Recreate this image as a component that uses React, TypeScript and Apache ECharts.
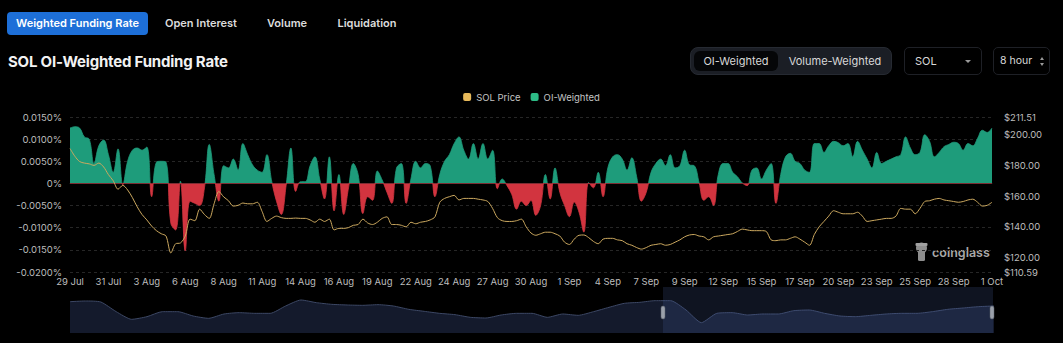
import React, { useEffect, useRef } from "react";
import * as echarts from "echarts";

// OI-weighted funding rate (%), 8-hour intervals from 29 Jul
const funding: number[] = [
  0.0125, 0.0128, 0.0125, 0.0105, 0.0100, 0.0045, 0.0085, 0.0098, 0.0065, 0.0025,
  0.0078, -0.0003, 0.005, 0.0075, 0.008, 0.0075, 0.0082, -0.003, 0.0048, 0.005,
  0.0048, -0.009, -0.0105, 0.0005, -0.0152, -0.004, -0.0045, -0.005, -0.001, 0.0088,
  0.002, -0.004, 0.004, 0.0035, 0.0055, 0.003, 0.009, 0.0065, 0.0042, 0.003,
  0.0025, 0.0065, 0.0005, -0.004, -0.007, -0.0005, 0.008, -0.0018, 0.0004, 0.0004,
  0.004, 0.006, 0.001, -0.0035, 0.006, -0.0062, 0.002, -0.007, -0.001, 0.0045,
  0.002, -0.0068, -0.003, -0.0038, 0.0028, 0.0008, -0.002, -0.0045, 0.0035, 0.0045,
  -0.0045, 0.001, 0.005, 0.0035, 0.0045, 0.004, -0.003, 0.002, 0.005, 0.0065,
  0.009, 0.0105, 0.0075, 0.0055, 0.009, 0.0055, 0.009, 0.0055, 0.0075, -0.0012,
  0.001, -0.0005, -0.0025, -0.0058, -0.004, -0.005, -0.0038, -0.0072, -0.005, 0.002,
  -0.0035, 0.0035, -0.002, -0.005, -0.0075, -0.0042, -0.0065, -0.011, 0.0002, -0.001,
  0.0025, -0.003, 0.0035, 0.006, 0.0065, 0.0055, 0.003, 0.0058, 0.0015, -0.004,
  -0.002, 0.0025, 0.0045, 0.0055, 0.004, 0.0065, 0.0035, 0.004, 0.0075, 0.0042,
  0.004, 0.0002, -0.0038, -0.003, -0.005, 0.002, 0.0045, 0.0045, 0.0025, 0.0015,
  0.0001, -0.0005, 0.003, 0.0035, 0.001, 0.003, 0.0045, -0.0045, 0.002, 0.006,
  0.0068, 0.005, 0.0045, 0.003, 0.0025, 0.009, 0.009, 0.007, 0.0085, 0.0095,
  0.0092, 0.0085, 0.009, 0.006, 0.0095, 0.0075, 0.0055, 0.0035, 0.007, 0.0045,
  0.005, 0.0055, 0.006, 0.0065, 0.0105, 0.008, 0.0065, 0.007, 0.011, 0.0095,
  0.006, 0.007, 0.0083, 0.0088, 0.0093, 0.009, 0.0075, 0.009, 0.0085, 0.0102,
  0.012, 0.0115, 0.0125,
];

// SOL price (USD)
const solPrice: number[] = [
  191, 186, 182.5, 181.5, 181, 180, 181.5, 179, 174, 170,
  164.5, 167, 164, 159, 153, 148, 144.5, 140.5, 137.5, 135.5,
  134, 123, 129, 129.5, 134, 145, 144, 151.5, 148, 145.5,
  155, 163, 159.5, 157, 153.5, 154, 155.5, 155, 155, 156,
  150, 143.5, 145.5, 147, 146, 145.5, 145.5, 145.7, 145.5, 145.5,
  144.5, 143, 145, 143.5, 145, 138, 139, 139, 139.5, 141,
  141.5, 145, 142.5, 141.5, 143, 145.5, 146.5, 141.5, 141.5, 141,
  140, 143, 142, 143, 143.5, 144.5, 146.5, 156, 158.5, 159.6,
  160.5, 157.5, 158.5, 158.5, 158.5, 158, 157.5, 156.5, 152, 146,
  144, 143.5, 143.5, 144, 145, 140, 136, 134.5, 135.5, 136.5,
  136.5, 135.5, 134, 130, 128.5, 132, 134.5, 134.7, 133, 130.5,
  129, 132, 132.5, 132.5, 131.5, 131, 129, 128, 126.5, 125.5,
  126.5, 128, 128.5, 129, 128, 128.5, 130, 131.5, 133.5, 134.7,
  135, 134, 133.5, 131.5, 133.5, 134, 134.5, 135, 135.5, 137,
  138.5, 138, 137.5, 137.5, 137.5, 137, 131.5, 131, 131.5, 131.5,
  132.5, 133.5, 132, 130, 128, 135, 140, 143.5, 147, 150.5,
  149.5, 148.5, 148.5, 148.5, 149.5, 147, 143.5, 144, 144.5, 145,
  145.5, 145.5, 147, 152, 151.5, 151.5, 148.5, 152, 156.5, 157,
  158, 158.5, 157.5, 157, 156.5, 156, 156.5, 157.5, 158, 156,
  153.5, 154, 156,
];

// data-zoom overview shadow (relative level)
const overview: number[] = [
  94, 96, 93, 64, 41, 49, 64, 64, 51, 44,
  57, 61, 59, 59, 81, 99, 91, 86, 84, 83,
  85, 81, 71, 65, 59, 55, 47, 45, 54, 59,
  59, 47, 57, 53, 64, 77, 89, 92, 97, 97,
  69, 31, 59, 61, 54, 57, 57, 67, 69, 59,
  51, 49, 53, 57, 59, 59, 64, 71, 75, 79,
  81,
];

const MONTHS = ["Jan", "Feb", "Mar", "Apr", "May", "Jun", "Jul", "Aug", "Sep", "Oct", "Nov", "Dec"];
const START = Date.UTC(2024, 6, 29);
const categories: string[] = funding.map((_, i) => {
  const d = new Date(START + i * 8 * 3600 * 1000);
  return `${d.getUTCDate()} ${MONTHS[d.getUTCMonth()]} ${String(d.getUTCHours()).padStart(2, "0")}:00`;
});
const overviewCats: string[] = overview.map((_, i) => String(i));

const RATE_MIN = -0.02;
const RATE_MAX = 0.015;

const GREEN = "#1e9c7b";
const RED = "#d2343f";
const GOLD = "#cba85f";
const FONT = "Inter, 'Noto Sans', sans-serif";

const GRID_TOP = 117;
const GRID_BOTTOM = 71;
const H = 343;

function Chart() {
  const ref = useRef<HTMLDivElement>(null);
  useEffect(() => {
    if (!ref.current) return;
    const chart = echarts.init(ref.current, null, { renderer: "svg" });
    const zeroOffset = RATE_MAX / (RATE_MAX - RATE_MIN);
    const splitFill = {
      type: "linear",
      global: true,
      x: 0,
      y: GRID_TOP,
      x2: 0,
      y2: H - GRID_BOTTOM,
      colorStops: [
        { offset: 0, color: GREEN },
        { offset: zeroOffset, color: GREEN },
        { offset: zeroOffset, color: RED },
        { offset: 1, color: RED },
      ],
    };
    chart.setOption({
      animation: false,
      backgroundColor: "transparent",
      textStyle: { fontFamily: FONT },
      legend: {
        top: 87,
        left: "center",
        icon: "roundRect",
        itemWidth: 8,
        itemHeight: 8,
        itemGap: 10,
        textStyle: { color: "#c4c4c4", fontSize: 9.5, fontFamily: FONT },
        data: [
          { name: "SOL Price", itemStyle: { color: "#e7b95a" } },
          { name: "OI-Weighted", itemStyle: { color: "#2dbb86" } },
        ],
      },
      grid: [
        { left: 70, right: 71, top: GRID_TOP, bottom: GRID_BOTTOM },
        { left: 70, right: 69, top: 287, height: 46 },
      ],
      xAxis: [
        {
          type: "category",
          gridIndex: 0,
          data: categories,
          boundaryGap: false,
          axisLine: { show: true, lineStyle: { color: "#262626" } },
          axisTick: { show: false },
          axisLabel: {
            interval: 7,
            color: "#bdbdbd",
            fontSize: 9.5,
            margin: 4,
            fontFamily: FONT,
            formatter: (v: string) => v.split(" ").slice(0, 2).join(" "),
          },
          splitLine: { show: false },
        },
        {
          type: "category",
          gridIndex: 1,
          data: overviewCats,
          boundaryGap: false,
          show: false,
        },
      ],
      yAxis: [
        {
          type: "value",
          gridIndex: 0,
          min: RATE_MIN,
          max: RATE_MAX,
          interval: 0.005,
          axisLine: { show: false },
          axisTick: { show: false },
          axisLabel: {
            color: "#bdbdbd",
            fontSize: 9.5,
            margin: 8,
            fontFamily: FONT,
            formatter: (v: number) => (Math.abs(v) < 1e-9 ? "0%" : v.toFixed(4) + "%"),
          },
          splitLine: { show: true, lineStyle: { color: "#262626", type: [3, 3] } },
        },
        {
          type: "value",
          gridIndex: 0,
          position: "right",
          min: 110.59,
          max: 211.51,
          splitNumber: 5,
          axisLine: { show: false },
          axisTick: { show: false },
          axisLabel: {
            color: "#bdbdbd",
            fontSize: 9.5,
            margin: 12,
            fontFamily: FONT,
            formatter: (v: number) => "$" + v.toFixed(2),
          },
          splitLine: { show: false },
        },
        {
          type: "value",
          gridIndex: 1,
          min: 0,
          max: 138,
          show: false,
        },
      ],
      series: [
        {
          name: "OI-Weighted",
          type: "line",
          xAxisIndex: 0,
          yAxisIndex: 0,
          data: funding,
          smooth: 0.4,
          showSymbol: false,
          symbol: "none",
          lineStyle: { width: 0.8, color: splitFill },
          areaStyle: { opacity: 1, color: splitFill },
          itemStyle: { color: GREEN },
          z: 2,
        },
        {
          name: "SOL Price",
          type: "line",
          xAxisIndex: 0,
          yAxisIndex: 1,
          data: solPrice,
          smooth: 0.3,
          showSymbol: false,
          symbol: "none",
          lineStyle: { width: 1, color: GOLD },
          itemStyle: { color: GOLD },
          z: 3,
        },
        {
          name: "overview",
          type: "line",
          xAxisIndex: 1,
          yAxisIndex: 2,
          data: overview,
          smooth: 0.2,
          showSymbol: false,
          symbol: "none",
          lineStyle: { width: 1, color: "#3d4865" },
          areaStyle: { color: "#141a2c", opacity: 1 },
          silent: true,
          z: 1,
        },
      ],
      graphic: [
        {
          type: "rect",
          shape: { x: 663, y: 287, width: 330, height: 46 },
          style: { fill: "rgba(70,90,150,0.22)" },
          z: 10,
          silent: true,
        },
        {
          type: "rect",
          shape: { x: 661, y: 306, width: 4, height: 13, r: 2 },
          style: { fill: "#9aa0aa", stroke: "#5a606a", lineWidth: 0.5 },
          z: 11,
        },
        {
          type: "rect",
          shape: { x: 990, y: 306, width: 4, height: 13, r: 2 },
          style: { fill: "#9aa0aa", stroke: "#5a606a", lineWidth: 0.5 },
          z: 11,
        },
        {
          type: "group",
          z: 12,
          children: [
            { type: "circle", shape: { cx: 921.5, cy: 248, r: 5.5 }, style: { fill: "#8e8e8e" } },
            { type: "rect", shape: { x: 918, y: 250, width: 7, height: 11, r: 1.5 }, style: { fill: "#8e8e8e" } },
            { type: "rect", shape: { x: 915.5, y: 243, width: 12, height: 3, r: 1 }, style: { fill: "#a0a0a0" } },
            {
              type: "text",
              x: 932,
              y: 252,
              style: {
                text: "coinglass",
                fill: "#a8a8a8",
                font: `600 12.5px ${FONT}`,
                textVerticalAlign: "middle",
              },
            },
          ],
        },
      ],
    });
    return () => chart.dispose();
  }, []);
  return <div ref={ref} style={{ position: "absolute", left: 0, top: 0, width: 1063, height: 343 }} />;
}

const tabStyle: React.CSSProperties = {
  position: "absolute",
  top: 12,
  height: 23,
  lineHeight: "23px",
  fontSize: 11,
  fontWeight: 600,
  color: "#dcdcdc",
  textAlign: "center",
  whiteSpace: "nowrap",
};

const triDown = (color: string): React.CSSProperties => ({
  position: "absolute",
  width: 0,
  height: 0,
  borderLeft: "3px solid transparent",
  borderRight: "3px solid transparent",
  borderTop: `3.5px solid ${color}`,
});
const triUp = (color: string): React.CSSProperties => ({
  position: "absolute",
  width: 0,
  height: 0,
  borderLeft: "2.5px solid transparent",
  borderRight: "2.5px solid transparent",
  borderBottom: `3px solid ${color}`,
});

export default function App() {
  useEffect(() => {
    document.body.style.margin = "0";
    document.body.style.background = "#000";
  }, []);
  return (
    <div
      style={{
        position: "fixed",
        left: 0,
        top: 0,
        width: 1063,
        height: 343,
        background: "#000",
        overflow: "hidden",
        fontFamily: FONT,
      }}
    >
      <Chart />
      <div
        style={{
          ...tabStyle,
          left: 7,
          width: 141,
          background: "#1d6fd8",
          borderRadius: 4,
          color: "#ffffff",
        }}
      >
        Weighted Funding Rate
      </div>
      <div style={{ ...tabStyle, left: 161, width: 80 }}>Open Interest</div>
      <div style={{ ...tabStyle, left: 262, width: 50 }}>Volume</div>
      <div style={{ ...tabStyle, left: 332, width: 70 }}>Liquidation</div>
      <div
        style={{
          position: "absolute",
          left: 8,
          top: 52,
          fontSize: 15,
          fontWeight: 700,
          color: "#f2f2f2",
          whiteSpace: "nowrap",
          letterSpacing: -0.2,
        }}
      >
        SOL OI-Weighted Funding Rate
      </div>
      <div
        style={{
          position: "absolute",
          left: 690,
          top: 47,
          width: 202,
          height: 28,
          background: "#1b1e25",
          border: "1px solid #262a32",
          borderRadius: 8,
          boxSizing: "border-box",
        }}
      >
        <div
          style={{
            position: "absolute",
            left: 3,
            top: 3,
            width: 84,
            height: 20,
            background: "#050608",
            borderRadius: 6,
            color: "#d8d8d8",
            fontSize: 11,
            lineHeight: "20px",
            textAlign: "center",
          }}
        >
          OI-Weighted
        </div>
        <div
          style={{
            position: "absolute",
            left: 90,
            top: 3,
            width: 108,
            height: 20,
            color: "#d8d8d8",
            fontSize: 11,
            lineHeight: "20px",
            textAlign: "center",
          }}
        >
          Volume-Weighted
        </div>
      </div>
      <div
        style={{
          position: "absolute",
          left: 904,
          top: 47,
          width: 78,
          height: 28,
          border: "1px solid #1e2026",
          borderRadius: 5,
          boxSizing: "border-box",
          color: "#d8d8d8",
          fontSize: 11,
          lineHeight: "26px",
        }}
      >
        <span style={{ position: "absolute", left: 10 }}>SOL</span>
        <div style={{ ...triDown("#9a9a9a"), left: 60, top: 12 }} />
      </div>
      <div
        style={{
          position: "absolute",
          left: 993,
          top: 47,
          width: 57,
          height: 28,
          border: "1px solid #1e2026",
          borderRadius: 5,
          boxSizing: "border-box",
          color: "#d8d8d8",
          fontSize: 10.5,
          lineHeight: "26px",
        }}
      >
        <span style={{ position: "absolute", left: 6, whiteSpace: "nowrap" }}>8 hour</span>
        <div style={{ ...triUp("#9a9a9a"), left: 46, top: 9 }} />
        <div style={{ ...triDown("#9a9a9a"), left: 45.5, top: 15, borderLeftWidth: 2.5, borderRightWidth: 2.5, borderTopWidth: 3 }} />
      </div>
    </div>
  );
}
